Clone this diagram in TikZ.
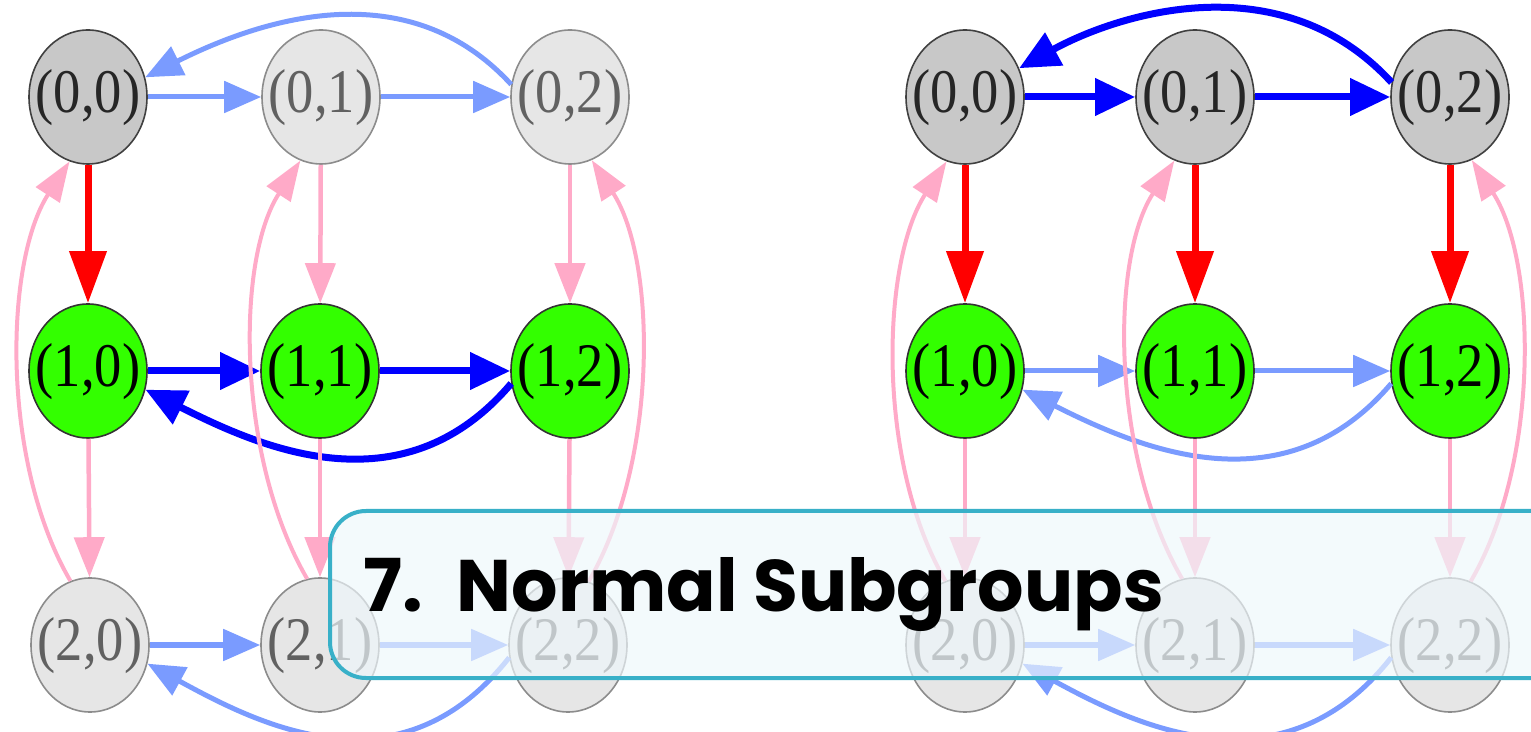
\documentclass[tikz,border=0pt]{standalone}
\usepackage{fontspec}
\usepackage{graphicx}
\usetikzlibrary{arrows.meta,shapes.geometric}
\newfontfamily\nodefont{Liberation Serif}
\newfontfamily\titlefont{Poppins}
\definecolor{dkgray}{RGB}{200,200,200}
\definecolor{ltgray}{RGB}{230,230,230}
\definecolor{gnode}{RGB}{51,255,0}
\definecolor{sblue}{RGB}{0,0,255}
\definecolor{lblue}{RGB}{122,155,255}
\definecolor{sred}{RGB}{255,0,0}
\definecolor{pinkc}{RGB}{255,170,200}
\definecolor{boxfill}{RGB}{238,247,251}
\definecolor{boxline}{RGB}{56,176,200}
\newcommand{\lab}[1]{\smash{\raisebox{-0.25em}{\makebox[0pt]{\scalebox{0.88}[1]{#1}}}}}
\tikzset{
  vtx/.style={ellipse, minimum width=118pt, minimum height=134pt, inner sep=0pt,
    line width=1.6pt, font=\nodefont\fontsize{62}{62}\selectfont},
  dk/.style={vtx, fill=dkgray, draw=black!75, text=black!85},
  lt/.style={vtx, fill=ltgray, draw=black!45, text=black!62},
  gr/.style={vtx, fill=gnode, draw=black!80, text=black},
  sbl/.style={draw=sblue, line width=7pt, -{Triangle[length=40pt,width=36pt]}},
  lbl/.style={draw=lblue, line width=5pt, -{Triangle[length=37pt,width=31pt]}},
  rdl/.style={draw=sred, line width=7pt, -{Triangle[length=52pt,width=36pt]}},
  pkl/.style={draw=pinkc, line width=4.5pt, -{Triangle[length=40pt,width=30pt]}},
  pkc/.style={draw=pinkc, line width=4pt, -{Triangle[length=40pt,width=28pt]}},
  titlebox/.style={draw=boxline, line width=4pt, fill=boxfill, fill opacity=0.68,
    rounded corners=36pt},
}
\begin{document}
\begin{tikzpicture}[x=1pt,y=1pt]
\useasboundingbox (0,0) rectangle (1531,731);
\clip (0,0) rectangle (1531,731);
% ---------- left graph ----------
\node[dk] (L00) at (88,634) {\lab{(0,0)}};
\node[lt] (L01) at (321,634) {\lab{(0,1)}};
\node[lt] (L02) at (570,634) {\lab{(0,2)}};
\node[gr] (L10) at (88,360) {\lab{(1,0)}};
\node[gr] (L11) at (320,360) {\lab{(1,1)}};
\node[gr] (L12) at (570,360) {\lab{(1,2)}};
\node[lt] (L20) at (90,86) {\lab{(2,0)}};
\node[lt] (L21) at (320,86) {\lab{(2,1)}};
\node[lt] (L22) at (568,86) {\lab{(2,2)}};
% rows
\draw[lbl] (L00) -- (L01);
\draw[lbl] (L01) -- (L02);
\draw[lbl] (L02.168) .. controls +(-110,120) and +(100,50) .. (L00.19);
\draw[sbl] (L10) -- (L11);
\draw[sbl] (L11) -- (L12);
\draw[sbl] (L12.192) .. controls +(-110,-130) and +(110,-55) .. (L10.342);
\draw[lbl] (L20) -- (L21);
\draw[lbl] (L21) -- (L22);
\draw[lbl] (L22.192) .. controls +(-110,-140) and +(110,-60) .. (L20.342);
% columns
\draw[rdl] (L00) -- (L10);
\draw[pkl] (L10) -- (L20);
\draw[pkl] (L01) -- (L11);
\draw[pkl] (L11) -- (L21);
\draw[pkl] (L02) -- (L12);
\draw[pkl] (L12) -- (L22);
\draw[pkc] (L20.107) .. controls +(-70,120) and +(-65,-100) .. (L00.254);
\draw[pkc] (L21.101) .. controls +(-70,120) and +(-65,-100) .. (L01.252);
\draw[pkc] (L22.72) .. controls +(70,120) and +(65,-100) .. (L02.289);
% ---------- right graph ----------
\node[dk] (R00) at (965,634) {\lab{(0,0)}};
\node[dk] (R01) at (1195,634) {\lab{(0,1)}};
\node[dk] (R02) at (1450,634) {\lab{(0,2)}};
\node[gr] (R10) at (965,360) {\lab{(1,0)}};
\node[gr] (R11) at (1195,360) {\lab{(1,1)}};
\node[gr] (R12) at (1450,360) {\lab{(1,2)}};
\node[lt] (R20) at (965,86) {\lab{(2,0)}};
\node[lt] (R21) at (1195,86) {\lab{(2,1)}};
\node[lt] (R22) at (1450,86) {\lab{(2,2)}};
% rows
\draw[sbl] (R00) -- (R01);
\draw[sbl] (R01) -- (R02);
\draw[sbl] (R02.166) .. controls +(-110,120) and +(100,55) .. (R00.28);
\draw[lbl] (R10) -- (R11);
\draw[lbl] (R11) -- (R12);
\draw[lbl] (R12.192) .. controls +(-110,-130) and +(110,-55) .. (R10.342);
\draw[lbl] (R20) -- (R21);
\draw[lbl] (R21) -- (R22);
\draw[lbl] (R22.192) .. controls +(-110,-140) and +(110,-60) .. (R20.342);
% columns
\draw[rdl] (R00) -- (R10);
\draw[rdl] (R01) -- (R11);
\draw[rdl] (R02) -- (R12);
\draw[pkl] (R10) -- (R20);
\draw[pkl] (R11) -- (R21);
\draw[pkl] (R12) -- (R22);
\draw[pkc] (R20.107) .. controls +(-70,120) and +(-65,-100) .. (R00.254);
\draw[pkc] (R21.101) .. controls +(-70,120) and +(-65,-100) .. (R01.252);
\draw[pkc] (R22.72) .. controls +(70,120) and +(65,-100) .. (R02.289);
% ---------- title box ----------
\draw[titlebox] (330,53) rectangle (1600,220);
\node[anchor=base west, inner sep=0pt, text=black,
  font=\titlefont\bfseries\fontsize{73}{73}\selectfont] (title) at (363,119)
  {7.\hspace{34pt}Normal Subgroups};
\end{tikzpicture}
\end{document}
